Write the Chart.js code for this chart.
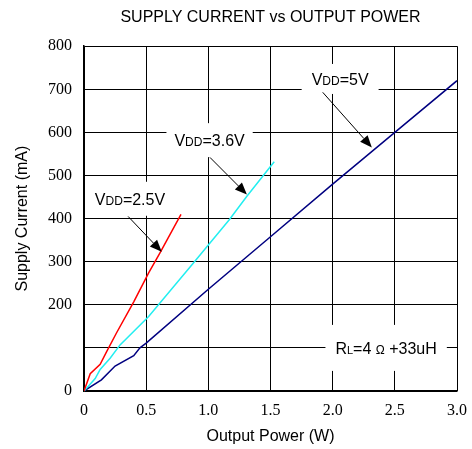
<!DOCTYPE html>
<html>
<head>
<meta charset="utf-8">
<script src="https://cdn.jsdelivr.net/npm/chart.js@4.4.1/dist/chart.umd.min.js"></script>
<style>
  html, body { margin: 0; padding: 0; background: #fff; }
</style>
</head>
<body>
<canvas id="chart" width="472" height="449"></canvas>
<script>
// values (W, mA)
const powerRed = [0, 0.05, 0.13, 0.18, 0.26, 0.40, 0.52, 0.61, 0.78];
const currentRed = [0, 40, 62, 90, 134, 207, 274, 320, 410];

const powerCyan = [0, 0.09, 0.13, 0.21, 0.29, 0.52, 0.88, 1.17, 1.31, 1.53];
const currentCyan = [0, 29, 50, 76, 107, 173, 297, 398, 452, 532];

const powerNavy = [0, 0.14, 0.25, 0.40, 0.45, 0.50, 1.0, 1.5, 2.0, 2.5, 3.0];
const currentNavy = [0, 26, 58, 82, 100, 111, 236, 358, 480, 600, 720];

const seriesNames = ['VDD=2.5V', 'VDD=3.6V', 'VDD=5V'];
const hiddenYTicks = [100];

const sans = '"Liberation Sans", Arial, sans-serif';
const serif = '"Liberation Serif", "Times New Roman", serif';

const toPoints = (xs, ys) => xs.map((x, i) => ({ x: x, y: ys[i] }));

// callouts: text parts, label centre and arrow in data units
const callouts = [
    { parts: [['V', 16], ['DD', 12], ['=2.5V', 16]], at: [0.37, 446], padX: 8, padY: 9,
      arrow: [[0.355, 405], [0.625, 323]] },
    { parts: [['V', 16], ['DD', 12], ['=3.6V', 16]], at: [1.01, 582], padX: 8, padY: 9,
      arrow: [[1.013, 542], [1.31, 456]] },
    { parts: [['V', 16], ['DD', 12], ['=5V', 16]], at: [2.06, 724], padX: 10, padY: 7,
      arrow: [[1.92, 693], [2.315, 565]] },
    { parts: [['R', 16], ['L', 11], ['=4 ', 16], ['\u03A9', 12], [' +33uH', 16]], at: [2.43, 100], padX: 10, padY: 15,
      arrow: null }
];

function measure(ctx, parts) {
    let total = 0;
    parts.forEach(p => {
        ctx.font = p[1] + 'px ' + sans;
        total += ctx.measureText(p[0]).width;
    });
    return total;
}

function drawArrow(ctx, x1, y1, x2, y2) {
    const ang = Math.atan2(y2 - y1, x2 - x1);
    const len = 12, half = 5;
    const bx = x2 - len * Math.cos(ang), by = y2 - len * Math.sin(ang);
    ctx.strokeStyle = '#000';
    ctx.lineWidth = 1;
    ctx.beginPath();
    ctx.moveTo(x1, y1);
    ctx.lineTo(bx, by);
    ctx.stroke();
    ctx.fillStyle = '#000';
    ctx.beginPath();
    ctx.moveTo(x2, y2);
    ctx.lineTo(bx + half * Math.sin(ang), by - half * Math.cos(ang));
    ctx.lineTo(bx - half * Math.sin(ang), by + half * Math.cos(ang));
    ctx.closePath();
    ctx.fill();
}

const calloutPlugin = {
    id: 'callouts',
    // white boxes go under the lines but over the grid
    beforeDatasetsDraw(chart) {
        const { ctx, scales: { x, y } } = chart;
        ctx.save();
        callouts.forEach(c => {
            const w = measure(ctx, c.parts);
            const cx = x.getPixelForValue(c.at[0]);
            const cy = y.getPixelForValue(c.at[1]);
            ctx.fillStyle = '#fff';
            ctx.fillRect(cx - w / 2 - c.padX, cy - 8 - c.padY, w + 2 * c.padX, 16 + 2 * c.padY);
        });
        ctx.restore();
    },
    afterDatasetsDraw(chart) {
        const { ctx, scales: { x, y } } = chart;
        ctx.save();
        callouts.forEach(c => {
            const w = measure(ctx, c.parts);
            const cx = x.getPixelForValue(c.at[0]);
            const cy = y.getPixelForValue(c.at[1]);
            let px = cx - w / 2;
            ctx.fillStyle = '#000';
            ctx.textBaseline = 'alphabetic';
            ctx.textAlign = 'left';
            c.parts.forEach(p => {
                ctx.font = p[1] + 'px ' + sans;
                ctx.fillText(p[0], px, cy + 6);
                px += ctx.measureText(p[0]).width;
            });
            if (c.arrow) {
                drawArrow(ctx,
                    x.getPixelForValue(c.arrow[0][0]), y.getPixelForValue(c.arrow[0][1]),
                    x.getPixelForValue(c.arrow[1][0]), y.getPixelForValue(c.arrow[1][1]));
            }
        });
        ctx.restore();
    }
};

const lineStyle = { showLine: true, pointRadius: 0, borderWidth: 1.5, tension: 0, fill: false };

const data = {
    datasets: [
        { label: seriesNames[0], data: toPoints(powerRed, currentRed), borderColor: '#ff0000', ...lineStyle },
        { label: seriesNames[1], data: toPoints(powerCyan, currentCyan), borderColor: '#22eef0', ...lineStyle },
        { label: seriesNames[2], data: toPoints(powerNavy, currentNavy), borderColor: '#000080', ...lineStyle }
    ]
};

const config = {
    type: 'scatter',
    data: data,
    options: {
        responsive: false,
        animation: false,
        layout: { padding: { left: 0, right: 15, top: 0, bottom: 0 } },
        scales: {
            x: {
                type: 'linear',
                min: 0,
                max: 3,
                afterFit: s => { s.height = 58; s.paddingLeft = 0; s.paddingRight = 0; },
                grid: { color: '#000', lineWidth: 1, drawTicks: false },
                border: { color: '#000', width: 1.5 },
                ticks: {
                    stepSize: 0.5,
                    padding: 10,
                    color: '#000',
                    font: { family: serif, size: 16 },
                    callback: v => v === 0 ? '0' : v.toFixed(1)
                },
                title: {
                    display: true,
                    text: 'Output Power (W)',
                    color: '#000',
                    font: { family: sans, size: 16 },
                    padding: { top: 0, bottom: 3 }
                }
            },
            y: {
                min: 0,
                max: 800,
                afterFit: s => { s.width = 84; },
                grid: { color: '#000', lineWidth: 1, drawTicks: false },
                border: { color: '#000', width: 1.5 },
                ticks: {
                    stepSize: 100,
                    padding: 12,
                    color: '#000',
                    font: { family: serif, size: 16 },
                    callback: v => hiddenYTicks.includes(v) ? '' : String(v)
                },
                title: {
                    display: true,
                    text: 'Supply Current (mA)',
                    color: '#000',
                    font: { family: sans, size: 16 },
                    padding: { top: 13, bottom: 0 }
                }
            }
        },
        plugins: {
            legend: { display: false },
            tooltip: { enabled: false },
            title: {
                display: true,
                fullSize: false,
                text: 'SUPPLY CURRENT vs OUTPUT POWER',
                color: '#000',
                font: { family: sans, size: 16, weight: 'normal' },
                padding: { top: 8, bottom: 19 }
            }
        }
    },
    plugins: [calloutPlugin]
};

new Chart(document.getElementById('chart'), config);
</script>
</body>
</html>
